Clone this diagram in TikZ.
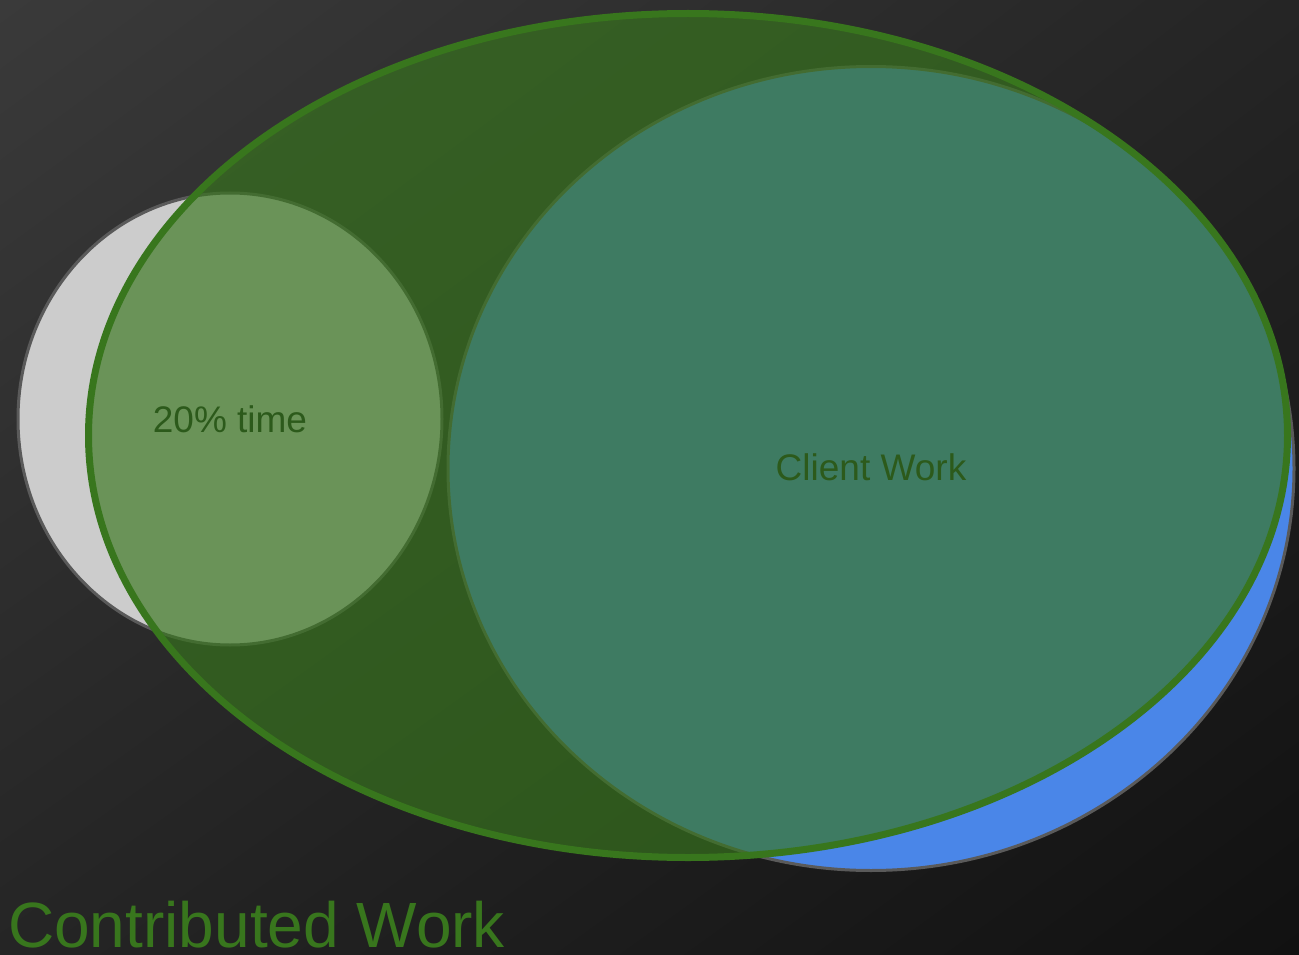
\documentclass[tikz,border=0pt]{standalone}
\usepackage{fontspec}
\setmainfont{Liberation Sans}
\usetikzlibrary{shapes.geometric,shadings}
\definecolor{bgtl}{HTML}{3A3A3A}
\definecolor{bgmid}{HTML}{252525}
\definecolor{bgbr}{HTML}{111111}
\definecolor{vgray}{HTML}{CCCCCC}
\definecolor{vedge}{HTML}{5A5A5A}
\definecolor{vblue}{HTML}{4A86E8}
\definecolor{vgreen}{HTML}{38761D}
\definecolor{vdark}{HTML}{2C5A1B}

\begin{document}
\begin{tikzpicture}[
    x=1pt,
    y=-1pt,
    blob/.style={ellipse, inner sep=0pt, outer sep=0pt, line width=3pt, draw=vedge},
    label/.style={text=vdark, font=\fontsize{37}{44}\selectfont, anchor=base}
  ]
    % backdrop
    \useasboundingbox (0,0) rectangle (1299,955);
    \shade[upper left=bgtl, upper right=bgmid, lower left=bgmid, lower right=bgbr] (0,0) rectangle (1299,955);

    % the three sets
    \node[blob, fill=vgray, minimum width=424pt, minimum height=452pt] (time) at (230,419) {};
    \node[blob, fill=vblue, minimum width=846pt, minimum height=804pt] (client) at (871,468.5) {};
    \node[blob, draw=vgreen, line width=7pt, fill=vgreen, fill opacity=0.66, minimum width=1199pt, minimum height=844pt] (contrib) at (688,435.5) {};

    % labels
    \node[label] (timelbl) at ([yshift=-13pt]time.center) {20\% time};
    \node[label] (clientlbl) at ([yshift=-11.5pt]client.center) {Client Work};
    \node[text=vgreen, inner sep=0pt, font=\fontsize{64}{70}\selectfont, anchor=base west] (contriblbl) at (8,947) {Contributed Work};
  \end{tikzpicture}
\end{document}
